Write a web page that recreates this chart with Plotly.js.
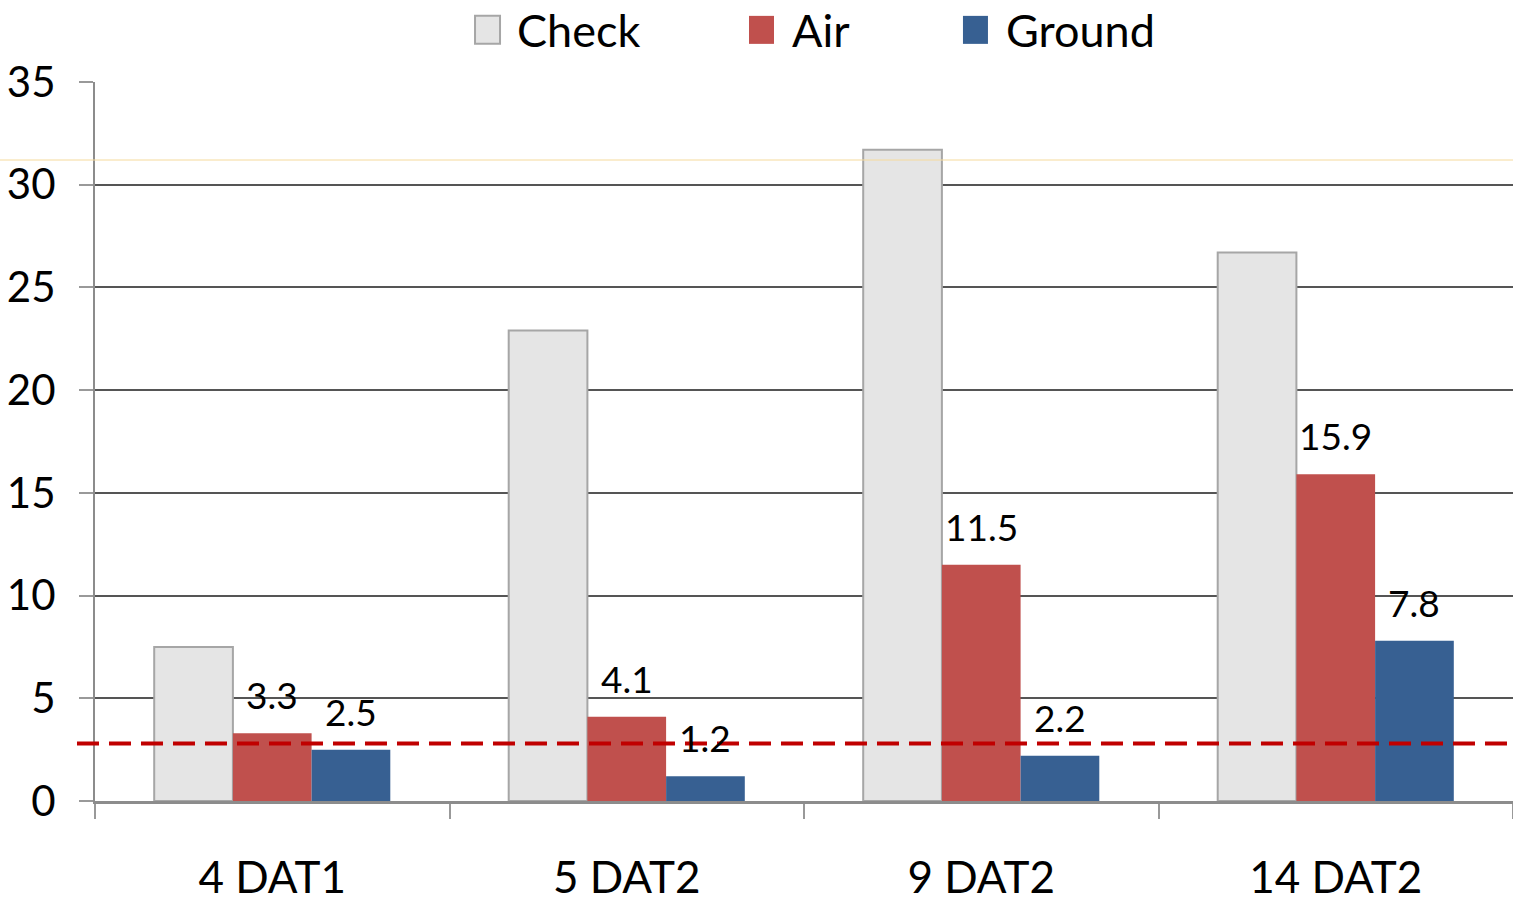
<!DOCTYPE html>
<html>
<head>
<meta charset="utf-8">
<script src="https://cdn.plot.ly/plotly-3.0.1.min.js"></script>
<style>
  html, body { margin: 0; padding: 0; background: #fff; }
  #chart { width: 1513px; height: 902px; }
</style>
</head>
<body>
<div id="chart"></div>
<script>
// Timing groups on the x axis
const categories = ['4 DAT1', '5 DAT2', '9 DAT2', '14 DAT2'];
const seriesNames = ['Check', 'Air', 'Ground'];

// Values per series
const checkValues = [7.5, 22.9, 31.7, 26.7];
const airValues = [3.3, 4.1, 11.5, 15.9];
const groundValues = [2.5, 1.2, 2.2, 7.8];

// Reference threshold drawn as a dashed line
const thresholdValue = 2.8;

const yTicks = [0, 5, 10, 15, 20, 25, 30, 35];

const FONT = 'Lato, "Open Sans", sans-serif';
const colors = { Check: '#E5E5E5', Air: '#C0504D', Ground: '#376092' };

const W = 1513, H = 902;
const margin = { l: 95, r: 0, t: 82, b: 101 };
const bargap = 0.334;
const plotW = W - margin.l - margin.r;
const barW = plotW / categories.length * (1 - bargap) / seriesNames.length;

const traces = [
  {
    type: 'bar', name: seriesNames[0], x: categories, y: checkValues,
    marker: { color: colors.Check, line: { color: '#A6A6A6', width: 2 } }
  },
  {
    type: 'bar', name: seriesNames[1], x: categories, y: airValues,
    marker: { color: colors.Air, line: { width: 0 } }
  },
  {
    type: 'bar', name: seriesNames[2], x: categories, y: groundValues,
    marker: { color: colors.Ground, line: { width: 0 } }
  }
];

const shapes = [];
const annotations = [];

// Value labels above the Air and Ground bars
[[airValues, 0], [groundValues, 1]].forEach(([vals, offset]) => {
  vals.forEach((v, i) => {
    annotations.push({
      x: categories[i], y: v, xref: 'x', yref: 'y',
      xshift: offset * barW, yshift: 14,
      xanchor: 'center', yanchor: 'bottom', showarrow: false,
      text: v.toFixed(1), font: { family: FONT, size: 37, color: '#000' }
    });
  });
});

// Hand-built legend across the top
const legendSquares = [0.268, 0.4612, 0.6121];
const legendText = [0.2962, 0.4901, 0.641];
const legendY = 1.0725;
seriesNames.forEach((name, i) => {
  shapes.push({
    type: 'rect', xref: 'paper', yref: 'paper',
    xsizemode: 'pixel', ysizemode: 'pixel',
    xanchor: legendSquares[i], yanchor: legendY,
    x0: 0, x1: 25, y0: -14, y1: 14,
    fillcolor: colors[name],
    line: { color: name === 'Check' ? '#A6A6A6' : colors[name], width: name === 'Check' ? 2 : 0 }
  });
  annotations.push({
    xref: 'paper', yref: 'paper', x: legendText[i], y: legendY,
    xanchor: 'left', yanchor: 'middle', showarrow: false,
    text: name, font: { family: FONT, size: 45, color: '#000' }
  });
});

// Dashed threshold line
shapes.push({
  type: 'line', xref: 'paper', yref: 'y',
  x0: -0.0127, x1: 1, y0: thresholdValue, y1: thresholdValue,
  line: { color: '#C00000', width: 4, dash: '22px,10px' }
});

// Thin pale rule near the top
shapes.push({
  type: 'line', xref: 'paper', yref: 'paper',
  x0: -0.07, x1: 1, y0: 0.8915, y1: 0.8915,
  line: { color: '#F5DA9C', width: 1 }
});

const layout = {
  width: W, height: H,
  margin: Object.assign({ pad: 0 }, margin),
  paper_bgcolor: '#fff', plot_bgcolor: '#fff',
  showlegend: false,
  barmode: 'group', bargap: bargap, bargroupgap: 0,
  font: { family: FONT, color: '#000' },
  xaxis: {
    type: 'category', tickson: 'boundaries',
    ticks: 'outside', ticklen: 15, tickwidth: 2, tickcolor: '#999',
    showgrid: false, showline: true, linecolor: '#8C8C8C', linewidth: 3,
    tickfont: { family: FONT, size: 44, color: '#000' },
    ticklabelstandoff: 36, zeroline: false
  },
  yaxis: {
    range: [0, 35], tickvals: yTicks, ticktext: yTicks.map(String),
    ticks: 'outside', ticklen: 14, tickwidth: 2, tickcolor: '#999',
    showline: true, linecolor: '#8C8C8C', linewidth: 2,
    showgrid: true, gridcolor: '#555', gridwidth: 2,
    zeroline: false,
    tickfont: { family: FONT, size: 42, color: '#000' },
    ticklabelstandoff: 15
  },
  shapes: shapes,
  annotations: annotations
};

Plotly.newPlot('chart', traces, layout, { displayModeBar: false, staticPlot: true });
</script>
</body>
</html>
